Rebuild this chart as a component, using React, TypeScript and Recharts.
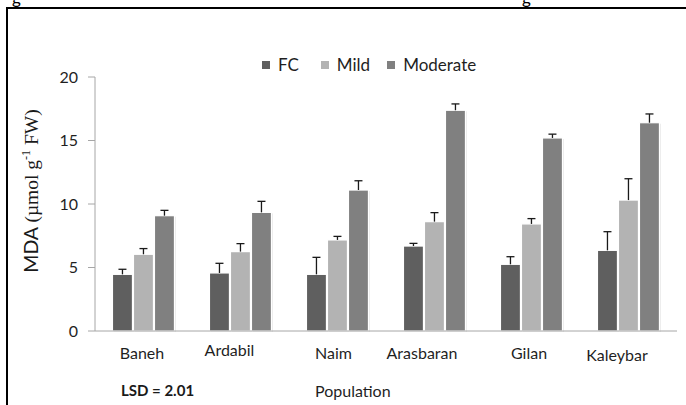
import React from "react";
import { BarChart, Bar, XAxis, YAxis } from "recharts";

const populations = ["Baneh", "Ardabil", "Naim", "Arasbaran", "Gilan", "Kaleybar"];
const fcValues = [4.46, 4.57, 4.46, 6.69, 5.25, 6.35];
const fcErrors = [0.4, 0.76, 1.34, 0.21, 0.6, 1.47];
const mildValues = [6.04, 6.25, 7.17, 8.61, 8.43, 10.31];
const mildErrors = [0.45, 0.63, 0.28, 0.71, 0.42, 1.68];
const moderateValues = [9.08, 9.34, 11.1, 17.38, 15.2, 16.4];
const moderateErrors = [0.42, 0.87, 0.73, 0.5, 0.3, 0.69];
const yTicks = [0, 5, 10, 15, 20];

const series = [
  { key: "fc", name: "FC", color: "#5f5f5f" },
  { key: "mild", name: "Mild", color: "#b3b3b3" },
  { key: "moderate", name: "Moderate", color: "#808080" },
];

const data = populations.map((name, i) => ({
  name,
  fc: fcValues[i],
  fcErr: fcErrors[i],
  mild: mildValues[i],
  mildErr: mildErrors[i],
  moderate: moderateValues[i],
  moderateErr: moderateErrors[i],
}));

const FONT = "Lato, 'Liberation Sans', sans-serif";

// nudges for the category labels, which sit a bit off-centre in the original
const labelShift = [
  [-1.5, 0],
  [-11, -3],
  [-4, 0],
  [-12.5, 0],
  [-2.5, 0],
  [-11.5, 2],
];

const BarWithError = (props: any) => {
  const { x, y, width, height, fill, payload, dataKey, value } = props;
  const v = Array.isArray(value) ? value[1] - value[0] : value;
  const pxPerUnit = v ? height / v : 0;
  const err = payload[dataKey + "Err"] || 0;
  const top = y - err * pxPerUnit;
  const cx = x + width / 2;
  return (
    <g>
      <rect x={x + 1.5} y={y + 1} width={width} height={height} fill="#000" opacity={0.08} />
      <rect x={x} y={y} width={width} height={height} fill={fill} stroke="#ffffff" strokeWidth={1.2} />
      <line x1={cx} y1={y} x2={cx} y2={top} stroke="#1a1a1a" strokeWidth={1.3} />
      <line x1={cx - 4} y1={top} x2={cx + 4} y2={top} stroke="#1a1a1a" strokeWidth={1.3} />
    </g>
  );
};

const XTick = (props: any) => {
  const { x, y, payload, index } = props;
  const [dx, dy] = labelShift[index] || [0, 0];
  return (
    <text x={x + dx} y={y + dy} textAnchor="middle" fontFamily={FONT} fontSize={16} fill="#1f1f1f">
      {payload.value}
    </text>
  );
};

const LegendBox = () => (
  <div
    style={{
      position: "absolute",
      left: 262,
      top: 54,
      display: "flex",
      alignItems: "center",
      fontFamily: FONT,
      fontSize: 17,
      color: "#1f1f1f",
    }}
  >
    {series.map((s, i) => (
      <div key={s.key} style={{ display: "flex", alignItems: "center", marginRight: i === 0 ? 22 : 17 }}>
        <span style={{ width: 8, height: 8, background: s.color, display: "inline-block", marginRight: 8 }} />
        <span>{s.name}</span>
      </div>
    ))}
  </div>
);

const YLabel = () => (
  <text transform="translate(38, 191) rotate(-90)" textAnchor="middle" fill="#1a1a1a" fontSize={19.5}>
    <tspan fontFamily={FONT}>MDA </tspan>
    <tspan fontFamily="'Liberation Serif', 'DejaVu Serif', serif">(µmol g</tspan>
    <tspan fontFamily="'Liberation Serif', serif" fontSize={12} dy={-8}>-1</tspan>
    <tspan fontFamily="'Liberation Serif', serif" dy={8}> FW)</tspan>
  </text>
);

export default function App() {
  return (
    <div style={{ position: "absolute", left: 0, top: 0, width: 686, height: 405, overflow: "hidden", background: "#fff" }}>
      <span style={{ position: "absolute", left: 12, top: -13, fontFamily: FONT, fontSize: 17 }}>g</span>
      <span style={{ position: "absolute", left: 522, top: -13, fontFamily: FONT, fontSize: 17 }}>g</span>
      <div
        style={{
          position: "absolute",
          left: 6,
          top: 7,
          width: 690,
          height: 410,
          borderLeft: "2px solid #000",
          borderTop: "2px solid #000",
        }}
      />
      <div style={{ position: "absolute", left: 0, top: 0 }}>
        <BarChart
          width={686}
          height={405}
          data={data}
          margin={{ top: 77, right: 9, bottom: 44, left: 0 }}
          barCategoryGap="18%"
          barGap={1}
        >
          <XAxis
            dataKey="name"
            height={30}
            axisLine={{ stroke: "#a6a6a6" }}
            tickLine={false}
            tickSize={0}
            tickMargin={28}
            tick={<XTick />}
            interval={0}
          />
          <YAxis
            width={95}
            domain={[0, 20]}
            ticks={yTicks}
            interval={0}
            axisLine={{ stroke: "#a6a6a6" }}
            tickLine={{ stroke: "#a6a6a6" }}
            tickSize={7}
            tickMargin={10}
            tick={{ fontFamily: FONT, fontSize: 16, fill: "#1f1f1f" }}
            label={{ content: () => <YLabel /> }}
          />
          {series.map((s) => (
            <Bar
              key={s.key}
              dataKey={s.key}
              name={s.name}
              fill={s.color}
              shape={<BarWithError />}
              isAnimationActive={false}
            />
          ))}
        </BarChart>
      </div>
      <LegendBox />
      <div style={{ position: "absolute", left: 121, top: 381, fontFamily: FONT, fontWeight: "bold", fontSize: 15, color: "#1a1a1a" }}>
        LSD = 2.01
      </div>
      <div style={{ position: "absolute", left: 315, top: 381, fontFamily: FONT, fontSize: 16, color: "#1f1f1f" }}>
        Population
      </div>
    </div>
  );
}
